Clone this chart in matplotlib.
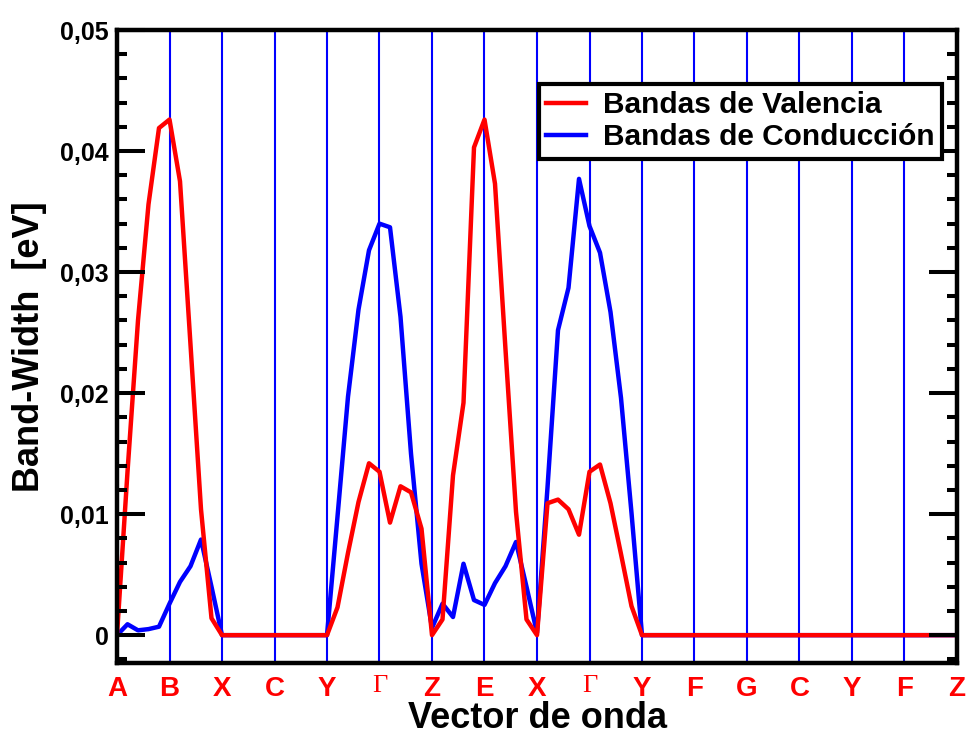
import numpy as np
import matplotlib
matplotlib.use("Agg")
import matplotlib.pyplot as plt
from matplotlib.ticker import MultipleLocator, FixedLocator

# High-symmetry path labels along the k-path
k_labels = ["A", "B", "X", "C", "Y", "Γ", "Z", "E", "X", "Γ", "Y", "F", "G", "C", "Y", "F", "Z"]
points_per_segment = 5

# Band widths (eV) sampled along the path, 5 points per segment
valence = [
    0.0, 0.0135, 0.0260, 0.0356, 0.0419, 0.0426, 0.0375, 0.0240, 0.0104, 0.0014,
    0.0, 0.0, 0.0, 0.0, 0.0, 0.0, 0.0, 0.0, 0.0, 0.0,
    0.0, 0.0023, 0.0068, 0.0110, 0.0142, 0.0135, 0.0093, 0.0123, 0.0118, 0.0088,
    0.0, 0.0013, 0.0132, 0.0192, 0.0403, 0.0426, 0.0373, 0.0236, 0.0102, 0.0013,
    0.0, 0.0109, 0.0112, 0.0104, 0.0083, 0.0135, 0.0141, 0.0109, 0.0067, 0.0024,
    0.0, 0.0, 0.0, 0.0, 0.0, 0.0, 0.0, 0.0, 0.0, 0.0,
    0.0, 0.0, 0.0, 0.0, 0.0, 0.0, 0.0, 0.0, 0.0, 0.0,
    0.0, 0.0, 0.0, 0.0, 0.0, 0.0, 0.0, 0.0, 0.0, 0.0,
    0.0,
]
conduction = [
    0.0, 0.0009, 0.0004, 0.0005, 0.0007, 0.0026, 0.0044, 0.0057, 0.0079, 0.0040,
    0.0, 0.0, 0.0, 0.0, 0.0, 0.0, 0.0, 0.0, 0.0, 0.0,
    0.0, 0.0098, 0.0197, 0.0269, 0.0318, 0.0340, 0.0337, 0.0263, 0.0150, 0.0059,
    0.0006, 0.0026, 0.0015, 0.0059, 0.0029, 0.0025, 0.0043, 0.0057, 0.0077, 0.0040,
    0.0002, 0.0122, 0.0252, 0.0287, 0.0377, 0.0338, 0.0316, 0.0267, 0.0196, 0.0101,
    0.0, 0.0, 0.0, 0.0, 0.0, 0.0, 0.0, 0.0, 0.0, 0.0,
    0.0, 0.0, 0.0, 0.0, 0.0, 0.0, 0.0, 0.0, 0.0, 0.0,
    0.0, 0.0, 0.0, 0.0, 0.0, 0.0, 0.0, 0.0, 0.0, 0.0,
    0.0,
]
y_ticks = [0.0, 0.01, 0.02, 0.03, 0.04, 0.05]
y_tick_labels = ["0", "0,01", "0,02", "0,03", "0,04", "0,05"]

k = np.arange(len(valence)) / points_per_segment
label_pos = np.arange(len(k_labels))

plt.rcParams["font.family"] = ["Liberation Sans", "DejaVu Sans"]
plt.rcParams["font.weight"] = "bold"

fig = plt.figure(figsize=(9.66, 7.36), dpi=100)
ax = fig.add_axes([117 / 966, 1 - 663 / 736, 840 / 966, 633 / 736])
ax.set_axisbelow(False)

# Vertical separators at the high-symmetry points
for xp in label_pos[1:-1]:
    ax.axvline(xp, color="#0000ff", lw=1.5, zorder=1)

# Conduction drawn first so valence sits on top where they overlap
l_cond, = ax.plot(k, conduction, color="#0000ff", lw=3.2, zorder=2)
l_val, = ax.plot(k, valence, color="#ff0000", lw=3.2, zorder=2.1)

ax.set_xlim(0, len(k_labels) - 1)
ax.set_ylim(-0.0023, 0.05)

# Axes frame
for sp in ax.spines.values():
    sp.set_linewidth(3.2)
    sp.set_zorder(3)

# x axis: labels only
ax.xaxis.set_major_locator(FixedLocator(label_pos))
ax.set_xticklabels(k_labels)
ax.tick_params(axis="x", which="both", length=0, pad=9, labelsize=20, labelcolor="#ff0000")
for t in ax.get_xticklabels():
    if t.get_text() == "Γ":
        t.set_family("Liberation Serif")
        t.set_fontweight("normal")
        t.set_fontsize(19)

# y axis: inward ticks on both sides
ax.yaxis.set_major_locator(FixedLocator(y_ticks))
ax.set_yticklabels(y_tick_labels)
ax.yaxis.set_minor_locator(MultipleLocator(0.002))
ax.tick_params(axis="y", which="both", direction="in", left=True, right=True,
               width=2.9, labelsize=18, pad=6)
ax.tick_params(axis="y", which="major", length=20)
ax.tick_params(axis="y", which="minor", length=7)

ax.set_xlabel("Vector de onda", fontsize=26, fontweight="bold", va="bottom")
ax.xaxis.set_label_coords(0.5, (663 - 735.5) / 633)
ax.set_ylabel("Band-Width  [eV]", fontsize=26, fontweight="bold", va="center")
ax.yaxis.set_label_coords(-0.1036, 0.5)

leg = ax.legend([l_val, l_cond], ["Bandas de Valencia", "Bandas de Conducción"],
                loc="upper right", bbox_to_anchor=((942 - 117) / 840, (663 - 84) / 633),
                borderaxespad=0, fancybox=False, framealpha=1, edgecolor="black",
                prop={"family": "Liberation Sans", "weight": "bold", "size": 21.5},
                handlelength=1.35, handletextpad=0.55, labelspacing=0.12,
                borderpad=0.25)
leg.get_frame().set_linewidth(3)
leg.set_zorder(5)

fig.savefig("out.png", dpi=100)
